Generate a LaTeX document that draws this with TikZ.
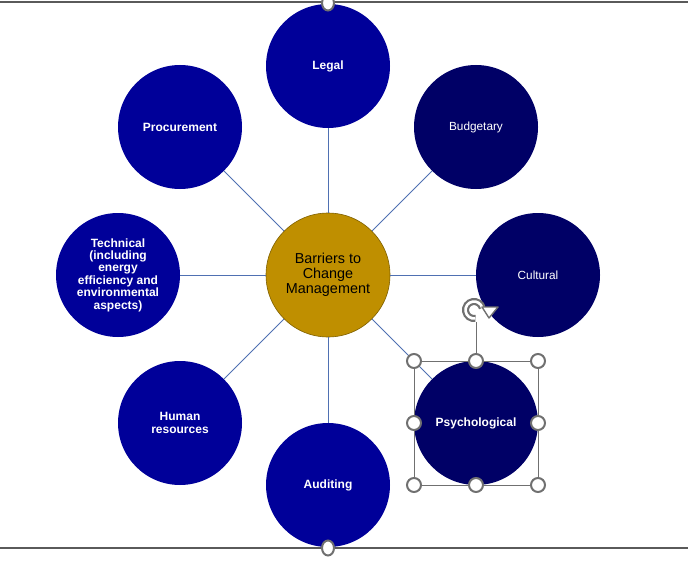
\documentclass[tikz,border=0pt]{standalone}
\usepackage{fontspec}
\setmainfont{Liberation Sans}
\usetikzlibrary{shapes.geometric}
\definecolor{navyA}{RGB}{0,0,153}
\definecolor{navyB}{RGB}{0,0,102}
\definecolor{goldc}{RGB}{191,143,0}
\definecolor{goldedge}{RGB}{127,96,0}
\definecolor{linkc}{RGB}{79,112,178}
\definecolor{hgray}{RGB}{112,112,112}
\definecolor{rulegray}{RGB}{90,90,90}
\begin{document}
\begin{tikzpicture}[x=1pt,y=-1pt,
  outer/.style={circle,minimum size=124pt,inner sep=0pt,text=white,align=center,
    font=\bfseries\fontsize{12}{12.4}\selectfont},
  lightnode/.style={outer,fill=navyA},
  darknode/.style={outer,fill=navyB},
  plainnode/.style={outer,fill=navyB,font=\fontsize{11.8}{12.4}\selectfont},
  hub/.style={circle,minimum size=124pt,inner sep=0pt,fill=goldc,draw=goldedge,line width=0.6pt,
    align=center,text=black,font=\fontsize{14.4}{15}\selectfont},
  spoke/.style={draw=linkc,line width=0.9pt},
  handle/.style={circle,minimum size=14pt,inner sep=0pt,fill=white,draw=hgray,line width=2pt},
  edgehandle/.style={ellipse,minimum width=12pt,minimum height=15pt,inner sep=0pt,fill=white,draw=hgray,line width=2pt},
  selbox/.style={draw=hgray,line width=1pt},
  rulel/.style={draw=rulegray,line width=1.2pt}]
\useasboundingbox (0,0) rectangle (688,567);
% rules
\coordinate (tl) at (0,2);
\coordinate (tr) at (688,2);
\coordinate (bl) at (0,548);
\coordinate (br) at (688,548);
\draw[rulel] (tl) -- (tr);
\draw[rulel] (bl) -- (br);
% nodes
\node[hub] (c) at (328,275) {Barriers to\\Change\\Management};
\node[lightnode] (legal) at (328,66) {Legal};
\node[plainnode] (budget) at (476,127) {Budgetary};
\node[plainnode] (cult) at (538,275) {Cultural};
\node[darknode] (psy) at (476,423) {Psychological};
\node[lightnode] (aud) at (328,485) {Auditing};
\node[lightnode] (hr) at (180,423) {Human\\resources};
\node[lightnode] (tech) at (118,275) {Technical\\(including\\energy\\efficiency and\\environmental\\aspects)};
\node[lightnode] (proc) at (180,127) {Procurement};
% spokes
\foreach \n in {legal,budget,cult,psy,aud,hr,tech,proc}
  \draw[spoke] (c) -- (\n);
% edge handles
\node[edgehandle] (et) at (328,3) {};
\node[edgehandle] (eb) at (328,548) {};
% selection box
\draw[selbox] (414,361) rectangle (538,485);
\coordinate (rotbase) at (476,322);
\draw[selbox] (476,361) -- (rotbase);
\foreach \x/\y/\nm in {414/361/h1,476/361/h2,538/361/h3,414/423/h4,538/423/h5,414/485/h6,476/485/h7,538/485/h8}
  \node[handle] (\nm) at (\x,\y) {};
% rotation icon
\draw[hgray,line width=7pt] (474,310) ++(80:8.5) arc[start angle=80,end angle=345,radius=8.5];
\draw[white,line width=2.6pt] (474,310) ++(82:8.5) arc[start angle=82,end angle=343,radius=8.5];
\draw[hgray,line width=1.4pt,fill=white,line join=round] (482,307) -- (498,307) -- (489,318) -- cycle;
\end{tikzpicture}
\end{document}
